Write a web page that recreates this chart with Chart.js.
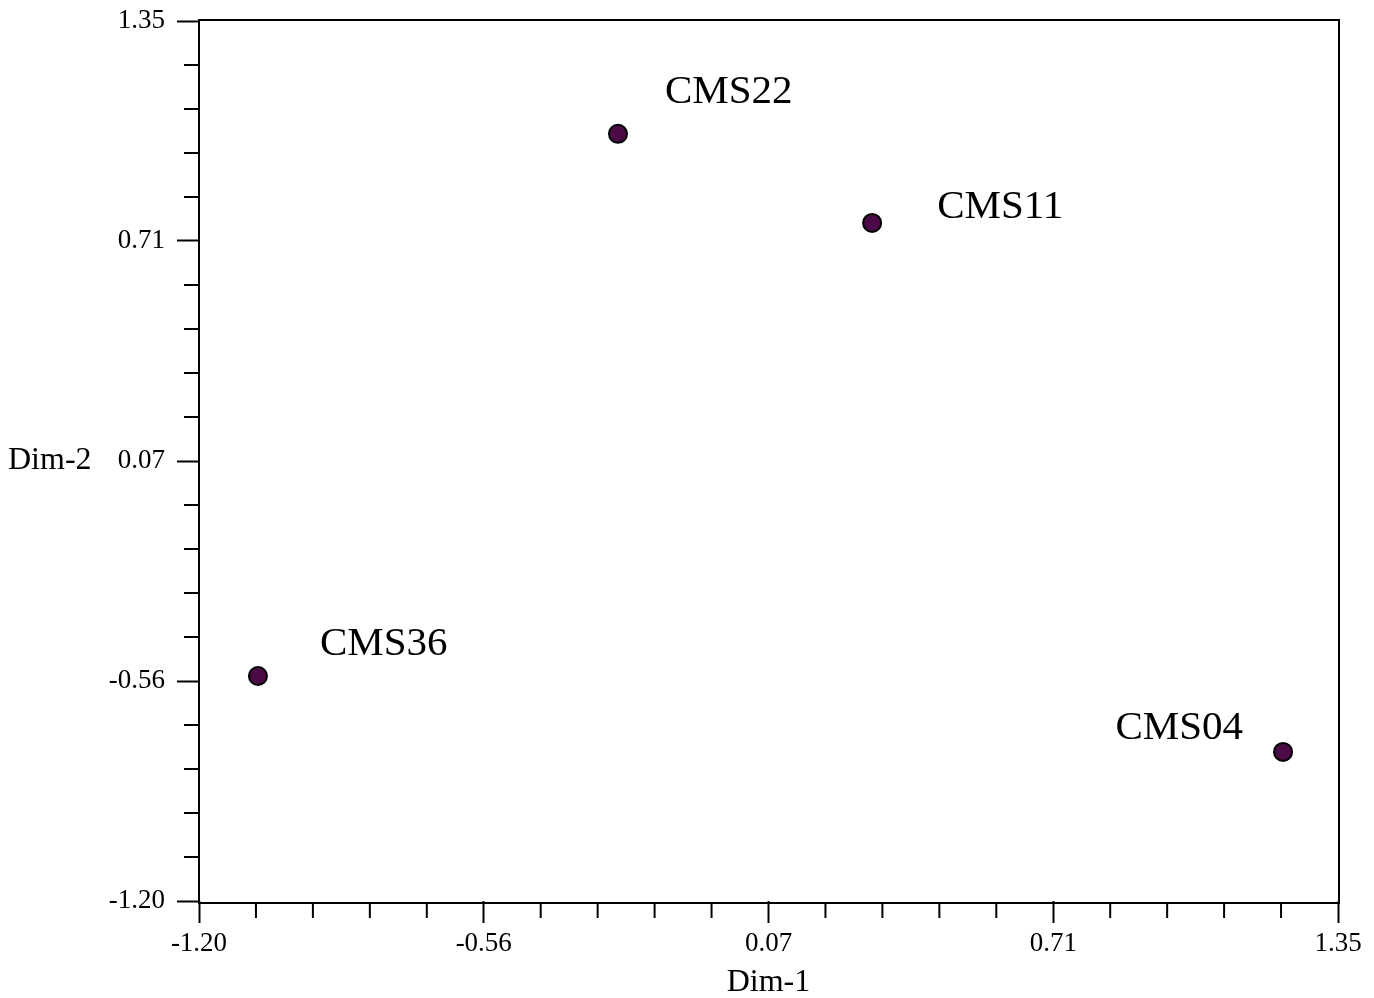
<!DOCTYPE html>
<html>
<head>
<meta charset="utf-8">
<script src="https://cdn.jsdelivr.net/npm/chart.js@4.4.1/dist/chart.umd.min.js"></script>
<style>
  html, body { margin: 0; padding: 0; background: #fff; }
</style>
</head>
<body>
<canvas id="mdsChart" width="1374" height="998"></canvas>
<script>
// sample coordinates
const sampleNames = ['CMS22', 'CMS11', 'CMS36', 'CMS04'];
const dim1Values = [-0.262, 0.307, -1.068, 1.227];
const dim2Values = [1.023, 0.765, -0.548, -0.768];

// axis ticks (both axes use the same range)
const tickValues = [-1.20, -0.5625, 0.075, 0.7125, 1.35];
const tickLabels = ['-1.20', '-0.56', '0.07', '0.71', '1.35'];
const minorPerMajor = 5;

const serif = 'Liberation Serif';

// where each name sits relative to its point
const labelPlacement = [
  { dx: 47, dy: -31, align: 'left' },
  { dx: 65, dy: -5, align: 'left' },
  { dx: 62, dy: -21, align: 'left' },
  { dx: -40, dy: -13, align: 'right' }
];

const points = sampleNames.map((n, i) => ({ x: dim1Values[i], y: dim2Values[i] }));

function fixedTicks(scale) {
  scale.ticks = tickValues.map(v => ({ value: v }));
}

const axisExtras = {
  id: 'axisExtras',
  afterDraw(chart) {
    const { ctx, chartArea: a, scales: { x, y } } = chart;
    ctx.save();
    ctx.strokeStyle = '#000';
    ctx.lineWidth = 2;

    // box round the plot
    ctx.beginPath();
    ctx.moveTo(a.left, a.bottom + 1);
    ctx.lineTo(a.left, a.top - 1);
    ctx.lineTo(a.right + 1, a.top - 1);
    ctx.lineTo(a.right + 1, a.bottom + 2);
    ctx.lineTo(a.left - 1, a.bottom + 2);
    ctx.stroke();

    // minor ticks
    ctx.beginPath();
    for (let k = 0; k < tickValues.length - 1; k++) {
      const step = (tickValues[k + 1] - tickValues[k]) / minorPerMajor;
      for (let m = 1; m < minorPerMajor; m++) {
        const v = tickValues[k] + m * step;
        const px = x.getPixelForValue(v);
        ctx.moveTo(px, a.bottom + 2);
        ctx.lineTo(px, a.bottom + 17);
        const py = y.getPixelForValue(v);
        ctx.moveTo(a.left, py);
        ctx.lineTo(a.left - 15, py);
      }
    }
    ctx.stroke();

    // axis titles
    ctx.fillStyle = '#000';
    ctx.font = '32px "' + serif + '"';
    ctx.textAlign = 'center';
    ctx.textBaseline = 'alphabetic';
    ctx.fillText('Dim-1', (a.left + a.right) / 2, 991);
    ctx.textAlign = 'left';
    ctx.textBaseline = 'middle';
    ctx.fillText('Dim-2', 8, y.getPixelForValue(tickValues[2]));

    // sample names
    const meta = chart.getDatasetMeta(0);
    ctx.font = '41px "' + serif + '"';
    ctx.textBaseline = 'alphabetic';
    meta.data.forEach((pt, i) => {
      const p = labelPlacement[i];
      ctx.textAlign = p.align;
      ctx.fillText(sampleNames[i], pt.x + p.dx, pt.y + p.dy);
    });
    ctx.restore();
  }
};

const axisCommon = {
  type: 'linear',
  min: tickValues[0],
  max: tickValues[tickValues.length - 1],
  afterBuildTicks: fixedTicks,
  border: { display: false },
  grid: {
    drawOnChartArea: false,
    drawTicks: true,
    tickLength: 22,
    tickWidth: 2,
    tickColor: '#000'
  }
};

new Chart(document.getElementById('mdsChart').getContext('2d'), {
  type: 'scatter',
  data: {
    datasets: [{
      data: points,
      backgroundColor: '#4b0a45',
      borderColor: '#000',
      borderWidth: 2,
      pointRadius: 9,
      pointHoverRadius: 9
    }]
  },
  options: {
    responsive: false,
    animation: false,
    layout: { padding: { top: 21, right: 36, left: 0, bottom: 0 } },
    plugins: { legend: { display: false }, tooltip: { enabled: false } },
    scales: {
      x: Object.assign({}, axisCommon, {
        position: 'bottom',
        afterFit(s) { s.height = 97; },
        ticks: {
          autoSkip: false, maxRotation: 0, padding: 5,
          color: '#000', font: { family: serif, size: 27 },
          callback: (v, i) => tickLabels[i]
        }
      }),
      y: Object.assign({}, axisCommon, {
        position: 'left',
        afterFit(s) { s.width = 199; },
        ticks: {
          autoSkip: false, padding: 12,
          color: '#000', font: { family: serif, size: 27, lineHeight: 0.6 },
          callback: (v, i) => tickLabels[i]
        }
      })
    }
  },
  plugins: [axisExtras]
});
</script>
</body>
</html>
